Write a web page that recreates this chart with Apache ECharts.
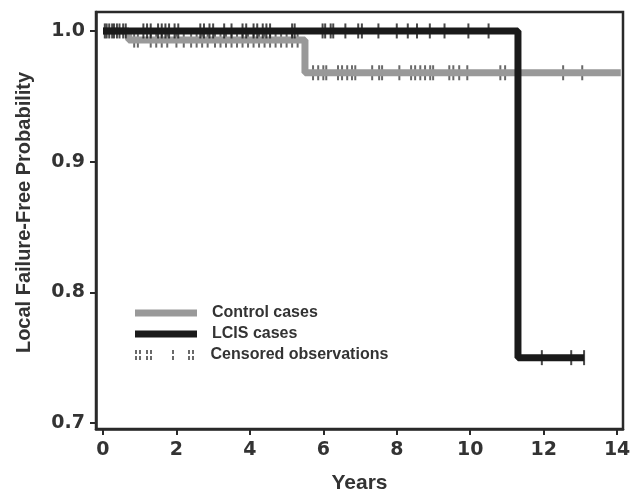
<!DOCTYPE html>
<html>
<head>
<meta charset="utf-8">
<script src="https://cdn.jsdelivr.net/npm/echarts@6/dist/echarts.min.js"></script>
<style>
  html, body { margin: 0; padding: 0; background: #fff; }
  #chart { width: 632px; height: 494px; }
</style>
</head>
<body>
<div id="chart"></div>
<script>
// Kaplan-Meier step points (years, probability)
const controlTimes = [0, 0.7, 5.5, 14.1]
const controlSurv = [1.0, 0.993, 0.968, 0.968]
const lcisTimes = [0, 11.3, 13.1]
const lcisSurv = [1.0, 0.75, 0.75]

// censored observation times (years)
const controlCensored = [0.85, 0.95, 1.3, 1.45, 1.6, 1.75, 2.0, 2.2, 2.4, 2.55, 2.7, 2.85, 3.05, 3.2, 3.35, 3.5,
  3.65, 3.8, 3.95, 4.1, 4.25, 4.4, 4.55, 4.7, 4.85, 5.0, 5.15, 5.3,
  5.72, 5.86, 6.0, 6.08, 6.4, 6.51, 6.65, 6.78, 6.87, 7.33, 7.52, 7.6, 8.07, 8.39, 8.5, 8.64, 8.77,
  8.91, 8.99, 9.43, 9.54, 9.7, 9.92, 10.82, 10.95, 12.53, 13.05]
const lcisCensored = [0.05, 0.1, 0.17, 0.25, 0.3, 0.38, 0.45, 0.55, 0.62, 1.1, 1.2, 1.3, 1.5, 1.6, 1.7, 1.8,
  1.95, 2.05, 2.65, 2.75, 2.9, 3.0, 3.3, 3.5, 3.8, 3.9, 4.1, 4.2, 4.35, 4.45, 4.55, 5.15, 5.22,
  5.98, 6.05, 6.2, 6.27, 6.6, 6.95, 7.05, 7.5, 8.0, 8.3, 8.55, 8.9, 9.3, 9.95, 10.5,
  11.95, 12.75, 13.1]

const xTicks = [0, 2, 4, 6, 8, 10, 12, 14]
const yTicks = [0.7, 0.8, 0.9, 1.0]

const textColor = '#333'
const axisColor = '#2a2a2a'
const digitFont = 'DejaVu Sans, sans-serif'
const font = 'Liberation Sans, Arial, sans-serif'

// survival value at time t from step arrays
const survAt = (times, surv, t) => {
  let v = surv[0]
  for (let i = 0; i < times.length; i++) {
    if (times[i] <= t) v = surv[i]
  }
  return v
}

const toPairs = (times, surv) => times.map((t, i) => [t, surv[i]])

const censorIcon = 'path://' + [0, 4, 11, 15, 37, 53, 57]
  .map(x => `M${x},0h2v4h-2zM${x},6h2v4h-2z`).join('')

const legendText = { color: textColor, fontFamily: font, fontWeight: 'bold', fontSize: 16, lineHeight: 18, padding: [0, 0, 0, 10] }

const chart = echarts.init(document.getElementById('chart'))

const option = {
  animation: false,
  backgroundColor: '#fff',
  grid: {
    left: 96,
    right: 9,
    top: 12,
    bottom: 65,
    outerBoundsMode: 'none',
    show: true,
    borderColor: axisColor,
    borderWidth: 2.5
  },
  legend: [
    {
      orient: 'vertical',
      left: 130,
      top: 299,
      itemWidth: 62,
      itemHeight: 7,
      itemGap: 3,
      data: [
        { name: 'Control cases', icon: 'rect' },
        { name: 'LCIS cases', icon: 'rect' }
      ],
      textStyle: legendText
    },
    {
      orient: 'vertical',
      left: 130,
      top: 341,
      itemWidth: 62,
      itemHeight: 10,
      data: [{ name: 'Censored observations', icon: censorIcon }],
      textStyle: legendText
    }
  ],
  xAxis: {
    type: 'value',
    min: -0.19,
    max: 14.16,
    name: 'Years',
    nameLocation: 'middle',
    nameGap: 44,
    nameTextStyle: { color: textColor, fontFamily: font, fontWeight: 'bold', fontSize: 21 },
    axisLine: { onZero: false, lineStyle: { color: axisColor, width: 2.5 } },
    axisTick: { show: true, length: 6, lineStyle: { color: axisColor, width: 2 }, customValues: xTicks },
    axisLabel: { color: textColor, fontFamily: digitFont, fontWeight: 'bold', fontSize: 19, margin: 12, customValues: xTicks },
    splitLine: { show: false }
  },
  yAxis: {
    type: 'value',
    min: 0.6954,
    max: 1.0145,
    name: 'Local Failure-Free Probability',
    nameLocation: 'middle',
    nameGap: 62,
    nameTextStyle: { color: textColor, fontFamily: font, fontWeight: 'bold', fontSize: 20, padding: [0, 0, 0, 16] },
    axisLine: { show: true, onZero: false, lineStyle: { color: axisColor, width: 2.5 } },
    axisTick: { show: true, length: 6, lineStyle: { color: axisColor, width: 2 }, customValues: yTicks },
    axisLabel: {
      color: textColor, fontFamily: digitFont, fontWeight: 'bold', fontSize: 19, margin: 11,
      customValues: yTicks,
      formatter: v => v.toFixed(1)
    },
    splitLine: { show: false }
  },
  series: [
    {
      name: 'Censored observations',
      type: 'scatter',
      z: 1,
      symbol: 'rect',
      symbolSize: [2, 15],
      itemStyle: { color: '#444' },
      data: controlCensored.map(t => [t, survAt(controlTimes, controlSurv, t)])
    },
    {
      name: 'Control cases',
      type: 'line',
      z: 2,
      step: 'end',
      showSymbol: false,
      lineStyle: { color: '#999', width: 7 },
      itemStyle: { color: '#999' },
      data: toPairs(controlTimes, controlSurv)
    },
    {
      name: 'LCIS censored',
      type: 'scatter',
      z: 3,
      symbol: 'rect',
      symbolSize: [2, 15],
      itemStyle: { color: '#1a1a1a' },
      data: lcisCensored.map(t => [t, survAt(lcisTimes, lcisSurv, t)])
    },
    {
      name: 'LCIS cases',
      type: 'line',
      z: 4,
      step: 'end',
      showSymbol: false,
      lineStyle: { color: '#1a1a1a', width: 7 },
      itemStyle: { color: '#1a1a1a' },
      data: toPairs(lcisTimes, lcisSurv)
    }
  ]
}

chart.setOption(option)
</script>
</body>
</html>
